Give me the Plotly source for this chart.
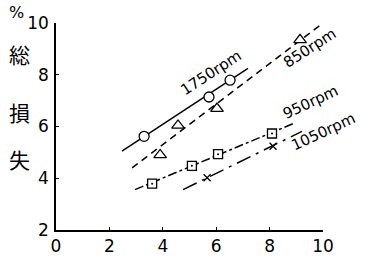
import plotly.graph_objects as go

# data
x_1750 = [3.3, 5.73, 6.52]
y_1750 = [5.62, 7.14, 7.79]
line_1750_x = [2.47, 7.19]
line_1750_y = [5.05, 8.25]

x_850 = [3.9, 4.57, 6.03, 9.14]
y_850 = [4.9, 6.04, 6.69, 9.35]
line_850_x = [2.85, 10.0]
line_850_y = [4.4, 10.0]

x_950 = [3.6, 5.09, 6.07, 8.09]
y_950 = [3.79, 4.48, 4.93, 5.73]
line_950_x = [2.96, 8.88]
line_950_y = [3.56, 6.11]

x_1050 = [5.66, 8.13]
y_1050 = [4.02, 5.24]
line_1050_x = [4.76, 9.21]
line_1050_y = [3.56, 5.81]

labels = ["1750rpm", "850rpm", "950rpm", "1050rpm"]
label_x = [5.8, 9.5, 9.55, 10.0]
label_y = [8.06, 9.05, 6.95, 5.8]

x_ticks = [0, 2, 4, 6, 8, 10]
y_ticks = [2, 4, 6, 8, 10]
y_title_chars = ["総", "損", "失"]

FONT = "DejaVu Sans"
fig = go.Figure()

def add_line(xs, ys, dash):
    fig.add_trace(go.Scatter(x=xs, y=ys, mode="lines", cliponaxis=False,
                             line=dict(color="black", width=1.5, dash=dash),
                             showlegend=False, hoverinfo="skip"))

def add_pts(xs, ys, symbol, size):
    fig.add_trace(go.Scatter(x=xs, y=ys, mode="markers", cliponaxis=False,
                             marker=dict(symbol=symbol, size=size, color="white",
                                         line=dict(color="black", width=1.3)),
                             showlegend=False, hoverinfo="skip"))

add_line(line_1750_x, line_1750_y, "solid")
add_line(line_850_x, line_850_y, "7px,5px")
add_line(line_950_x, line_950_y, "dashdot")
add_line(line_1050_x, line_1050_y, "longdashdot")

add_pts(x_1750, y_1750, "circle", 10)
add_pts(x_850, y_850, "triangle-up", 11)
add_pts(x_950, y_950, "square", 9)
fig.add_trace(go.Scatter(x=x_950, y=y_950, mode="markers", cliponaxis=False,
                         marker=dict(symbol="circle", size=2, color="black"),
                         showlegend=False, hoverinfo="skip"))
fig.add_trace(go.Scatter(x=x_1050, y=y_1050, mode="markers", cliponaxis=False,
                         marker=dict(symbol="x-thin", size=7, color="black",
                                     line=dict(color="black", width=1.3)),
                         showlegend=False, hoverinfo="skip"))

angles = [-33, -33, -25, -25]
for t, lx, ly, a in zip(labels, label_x, label_y, angles):
    fig.add_annotation(x=lx, y=ly, text=t, showarrow=False, textangle=a,
                       font=dict(family=FONT, size=15, color="black"))

# vertical y-axis title characters
title_y = [0.85, 0.57, 0.345]
for ch, ty in zip(y_title_chars, title_y):
    fig.add_annotation(xref="paper", yref="paper", x=-0.135, y=ty,
                       xanchor="center", yanchor="middle",
                       text=ch, showarrow=False,
                       font=dict(family="Noto Sans CJK JP", size=21, color="black"))
fig.add_annotation(xref="paper", yref="paper", x=-0.185, y=1.05,
                   xanchor="left", yanchor="middle", text="%",
                   showarrow=False, font=dict(family=FONT, size=16, color="black"))

fig.update_layout(
    width=375, height=268,
    margin=dict(l=56, r=52, t=23, b=35),
    paper_bgcolor="white", plot_bgcolor="white",
    xaxis=dict(range=[0, 10], tickvals=x_ticks, showgrid=False, zeroline=False,
               showline=True, linecolor="black", linewidth=1.5,
               ticks="inside", ticklen=3, tickcolor="black",
               tickfont=dict(family=FONT, size=17, color="black")),
    yaxis=dict(range=[2, 10], tickvals=y_ticks, showgrid=False, zeroline=False,
               showline=True, linecolor="black", linewidth=1.5,
               ticks="inside", ticklen=3, tickcolor="black", ticklabelstandoff=2,
               tickfont=dict(family=FONT, size=17, color="black")),
)

fig.write_html("out.html")
